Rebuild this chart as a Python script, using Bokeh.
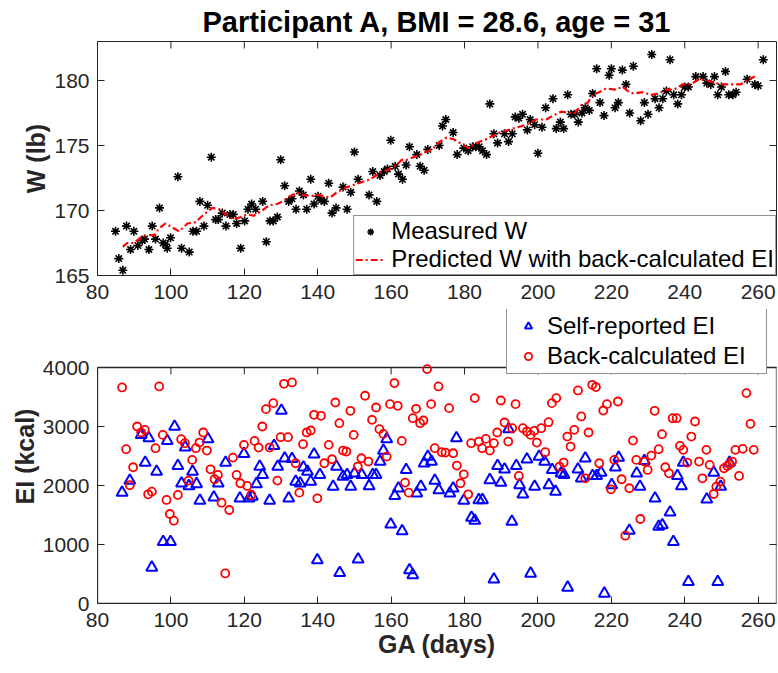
import math
from bokeh.plotting import figure
from bokeh.models import (ColumnDataSource, Range1d, FixedTicker, Legend, LegendItem, Title)
from bokeh.layouts import column
from bokeh.embed import file_html
from bokeh.resources import INLINE

# ---------------- data ----------------
title_text = "Participant A, BMI = 28.6, age = 31"
x_lim = [80, 265]
w_lim = [165, 183]
ei_lim = [0, 4000]
x_ticks = [80, 100, 120, 140, 160, 180, 200, 220, 240, 260]
w_ticks = [165, 170, 175, 180]
ei_ticks = [0, 1000, 2000, 3000, 4000]

meas_day = [84.9, 85.8, 86.9, 87.9, 89.0, 89.9, 91.0, 92.2, 92.8, 94.0, 94.9, 95.8, 96.9, 97.9, 98.5,
            99.0, 99.9, 101.9, 102.9, 105.0, 106.0, 107.0, 107.9, 109.0, 110.0, 111.0, 112.2, 112.9,
            114.0, 115.0, 116.1, 117.0, 117.9, 119.0, 120.1, 121.0, 122.0, 123.1, 125.0, 126.0, 127.0,
            127.9, 129.0, 129.9, 131.0, 132.1, 133.0, 134.1, 135.0, 136.1, 137.0, 138.1, 139.0, 140.1,
            140.9, 141.8, 143.0, 143.9, 145.0, 146.9, 148.0, 149.0, 150.0, 151.0, 154.0, 155.0, 156.1,
            157.0, 158.1, 159.0, 159.9, 161.1, 162.0, 163.1, 164.1, 165.0, 167.0, 167.9, 169.0, 170.0,
            173.1, 174.0, 174.9, 176.9, 178.0, 179.8, 181.0, 182.2, 183.1, 184.0, 184.9, 186.0, 186.9,
            188.0, 189.0, 190.9, 192.0, 193.0, 193.8, 194.8, 195.8, 197.1, 197.9, 199.1, 200.0, 201.1,
            202.1, 204.1, 205.0, 206.1, 207.0, 208.1, 209.0, 210.0, 211.0, 212.0, 212.9, 214.0, 214.9,
            216.0, 216.9, 218.0, 219.4, 220.0, 221.0, 221.9, 223.0, 224.0, 225.0, 226.0, 228.0, 229.0,
            230.0, 231.0, 231.9, 233.0, 234.0, 235.0, 236.0, 237.0, 238.1, 239.1, 240.0, 241.0, 243.0,
            245.0, 246.0, 247.1, 248.1, 249.0, 250.0, 251.1, 252.0, 253.1, 254.0, 257.0, 259.1, 260.0,
            261.4]
meas_w = [168.4, 166.3, 165.4, 168.8, 167.0, 168.4, 167.3, 167.7, 167.8, 167.0, 168.8, 167.8, 170.2,
          167.5, 167.4, 167.1, 167.9, 172.6, 167.1, 166.8, 168.4, 168.4, 170.7, 168.8, 170.4, 174.1,
          169.3, 169.3, 169.8, 168.8, 169.7, 169.7, 169.0, 167.1, 169.2, 170.1, 170.5, 170.1, 170.7,
          167.6, 169.2, 169.2, 169.5, 173.9, 171.9, 170.7, 170.9, 170.1, 171.5, 171.2, 170.1, 172.4,
          170.5, 171.1, 170.8, 170.7, 172.1, 169.8, 170.2, 171.8, 170.1, 171.4, 174.5, 172.4, 171.2,
          173.0, 170.7, 172.7, 173.0, 173.2, 175.4, 173.4, 172.8, 172.4, 173.5, 174.9, 174.3, 173.4,
          173.1, 174.7, 175.0, 176.5, 177.0, 176.0, 174.3, 174.8, 174.6, 174.9, 174.9, 174.9, 174.6,
          174.3, 178.2, 175.9, 175.2, 175.9, 175.3, 175.9, 177.2, 177.1, 177.4, 176.2, 177.0, 176.6,
          174.4, 176.4, 177.9, 178.6, 176.3, 176.8, 176.3, 178.9, 177.4, 177.4, 176.8, 177.5, 177.9,
          177.7, 179.0, 180.9, 178.3, 177.3, 180.4, 180.9, 177.9, 178.3, 180.8, 179.7, 177.5, 181.1,
          176.9, 178.3, 177.4, 182.0, 178.6, 177.9, 178.6, 179.2, 181.6, 178.9, 178.2, 178.9, 179.5,
          179.5, 180.3, 180.3, 179.8, 179.7, 180.3, 178.9, 179.5, 180.7, 178.9, 178.9, 179.1, 180.1,
          179.7, 179.6, 181.6]

pred_day = [86.9, 88.1, 89.9, 91.7, 93.5, 95.4, 96.7, 98.5, 100.4, 102.2, 104.5, 106.7, 109.0, 111.3,
            113.1, 115.4, 117.2, 119.0, 120.8, 122.6, 124.9, 126.7, 129.0, 130.4, 132.6, 134.3, 135.8,
            138.1, 139.9, 143.4, 145.2, 148.0, 151.1, 154.3, 157.0, 159.7, 161.5, 162.9, 164.3, 166.1,
            168.8, 171.5, 173.3, 175.1, 176.9, 178.7, 181.0, 183.3, 186.0, 189.6, 193.2, 196.8, 199.5,
            202.3, 204.1, 206.3, 208.6, 210.0, 211.8, 213.6, 214.9, 216.7, 218.6, 220.8, 223.1, 224.9,
            226.2, 228.5, 230.8, 233.0, 234.8, 237.1, 239.4, 241.6, 243.9, 246.2, 248.4, 250.2, 252.9,
            255.2, 257.5, 259.1]
pred_w = [167.2, 167.5, 167.5, 167.9, 168.1, 168.1, 168.6, 169.0, 168.7, 168.4, 169.0, 169.1, 169.7,
          170.2, 170.1, 169.6, 169.3, 169.5, 169.7, 169.6, 170.0, 170.4, 170.5, 170.7, 171.1, 171.4,
          171.2, 171.1, 171.2, 171.0, 171.4, 171.8, 172.1, 172.4, 172.9, 173.2, 173.5, 173.9, 173.9,
          174.1, 174.4, 174.8, 175.3, 175.6, 175.5, 175.2, 174.8, 175.2, 175.5, 176.0, 176.3, 176.6,
          177.0, 177.0, 177.3, 177.6, 177.5, 177.5, 178.1, 178.3, 178.9, 179.1, 179.4, 179.3, 179.5,
          179.1, 179.0, 179.1, 178.9, 179.0, 179.3, 179.3, 179.7, 179.7, 180.1, 180.0, 179.8, 179.7,
          179.7, 179.7, 180.1, 180.3]

self_day = [86.7, 88.8, 91.9, 93.0, 94.0, 94.8, 96.1, 97.9, 99.0, 99.9, 101.0, 101.9, 102.9, 103.9,
            104.9, 105.9, 107.0, 107.9, 110.1, 111.7, 112.9, 114.9, 118.8, 119.9, 121.3, 122.2, 123.3,
            124.2, 125.0, 126.9, 128.1, 129.1, 130.1, 131.0, 132.1, 133.0, 134.0, 135.2, 136.1, 137.2,
            138.1, 139.0, 139.9, 140.6, 144.2, 145.1, 146.0, 146.9, 148.0, 149.0, 150.0, 151.0, 152.0,
            154.0, 155.0, 155.9, 157.0, 157.9, 158.8, 159.9, 161.0, 162.0, 163.0, 164.1, 165.0, 165.9,
            167.0, 168.1, 169.0, 170.0, 171.0, 171.9, 173.0, 176.0, 176.9, 177.8, 179.8, 181.9, 182.8,
            183.9, 184.9, 186.9, 188.0, 189.0, 189.9, 190.9, 192.0, 192.9, 194.1, 195.0, 195.9, 197.0,
            198.0, 199.1, 200.3, 201.8, 203.0, 203.9, 204.8, 206.3, 207.1, 208.1, 210.9, 211.8, 212.9,
            214.9, 216.0, 217.2, 218.1, 220.1, 221.1, 222.0, 224.9, 226.9, 227.8, 229.0, 231.9, 232.9,
            233.9, 236.0, 236.9, 238.0, 239.1, 239.6, 241.0, 246.0, 247.9, 249.0, 249.8, 252.2]
self_ei = [1879, 2083, 2858, 2389, 2802, 611, 2236, 1047, 2756, 1047, 3000, 2332, 2038, 2649, 1992,
           2236, 2026, 1743, 2785, 1800, 2038, 2389, 1783, 2536, 1783, 1811, 2026, 2321, 2179, 1743,
           2672, 2321, 3271, 2462, 1783, 2451, 2066, 2038, 2309, 2236, 2066, 2530, 736, 2179, 1981,
           2321, 521, 2151, 2179, 1981, 2207, 747, 2179, 1992, 2179, 2179, 2406, 2592, 2785, 1341,
           1823, 1953, 1228, 2264, 566, 481, 1868, 1981, 2377, 2490, 2406, 2083, 1924, 1868, 1953,
           2802, 1743, 1455, 1404, 1755, 1755, 2094, 408, 2332, 2049, 2275, 2955, 1387, 2332, 2009,
           1851, 2445, 509, 1981, 2490, 2406, 2009, 2264, 1896, 2207, 2179, 272, 2275, 2122, 2462,
           2162, 2162, 2219, 170, 2009, 2309, 2473, 1234, 2207, 1981, 2417, 1783, 1302, 1330, 1545,
           1047, 2162, 1992, 2389, 368, 1766, 2219, 368, 1981, 2389]

back_day = [86.7, 87.8, 88.8, 89.7, 90.8, 91.9, 92.9, 93.8, 94.8, 95.8, 96.8, 97.8, 98.8, 99.7, 100.8,
            101.9, 102.8, 103.8, 104.8, 105.8, 106.8, 107.8, 108.8, 109.8, 110.8, 111.9, 112.8, 113.8,
            114.8, 115.9, 116.9, 117.9, 118.9, 119.9, 120.8, 121.9, 122.8, 123.9, 124.9, 125.9, 126.9,
            127.9, 129.0, 129.9, 130.8, 131.9, 133.0, 134.0, 135.0, 136.0, 137.0, 138.1, 139.0, 139.9,
            140.9, 141.8, 143.0, 143.9, 144.8, 145.9, 146.9, 147.8, 148.9, 149.8, 150.9, 151.9, 152.9,
            153.8, 154.8, 155.9, 156.8, 157.9, 158.8, 159.7, 160.9, 161.8, 162.9, 163.8, 164.8, 165.9,
            166.8, 167.9, 168.8, 169.8, 170.9, 171.9, 172.9, 173.8, 174.8, 175.8, 176.9, 177.9, 178.9,
            179.8, 181.0, 181.8, 182.8, 183.9, 184.8, 185.8, 186.9, 188.0, 188.9, 189.9, 190.9, 191.9,
            193.0, 193.9, 194.8, 195.9, 197.0, 198.0, 199.0, 199.7, 200.9, 202.0, 202.9, 203.8, 205.0,
            205.9, 207.0, 208.0, 208.9, 209.9, 210.9, 211.8, 212.9, 213.8, 214.8, 215.8, 216.7, 217.8,
            218.8, 219.9, 220.8, 221.8, 222.8, 223.8, 224.9, 225.9, 226.8, 227.9, 229.0, 229.9, 230.9,
            231.8, 232.9, 233.8, 234.7, 235.7, 236.7, 237.8, 238.7, 239.6, 240.7, 241.8, 242.8, 243.9,
            244.8, 245.9, 246.8, 247.9, 248.6, 249.7, 250.7, 251.6, 252.2, 252.9, 253.8, 254.8, 255.8,
            256.8, 257.9, 258.8]
back_ei = [3662, 2615, 2004, 2309, 3000, 2898, 2943, 1851, 1896, 2632, 3679, 2858, 1755, 1517, 1404,
           1840, 2785, 2717, 2083, 2434, 2632, 2728, 2898, 2592, 2275, 2106, 2179, 1709, 509, 1585,
           2473, 2179, 2038, 2689, 1992, 1840, 2756, 2643, 3000, 3294, 2643, 3396, 2083, 2819, 3724,
           2819, 3747, 2377, 1879, 2700, 2898, 2932, 3198, 1783, 3181, 2377, 2689, 2445, 3407, 3056,
           2592, 2575, 3266, 2858, 2321, 2462, 3521, 2406, 3113, 3322, 2955, 2875, 2490, 3379, 3736,
           3351, 2756, 2049, 1879, 3141, 3300, 3056, 3102, 3973, 3379, 2632, 3679, 2564, 2558, 3311,
           2547, 2338, 2038, 2190, 1851, 2717, 3481, 2745, 2632, 2790, 2592, 2717, 2898, 3441, 3068,
           2745, 2971, 3379, 2162, 2971, 2915, 2858, 2926, 2728, 2971, 2564, 3073, 3396, 3481, 2321,
           2389, 2830, 2660, 2943, 3611, 3170, 2122, 2898, 3707, 3668, 2377, 3271, 3379, 1936, 2434,
           3424, 2106, 1149, 1953, 2762, 2434, 1432, 2406, 2264, 2507, 3266, 2615, 2870, 2309, 2207,
           3141, 3141, 2672, 2604, 2389, 2830, 3085, 2406, 2122, 2604, 2349, 1856, 1981, 2066, 2292,
           2332, 2360, 2406, 2604, 2162, 2621, 3566, 3045, 2604]

# ---------------- styling ----------------
FONT = "Liberation Sans"
AXC = "#262626"
TICK_FS = "21px"
LAB_FS = "25px"
LEG_FS = "24px"
TICK_LEN = 7


def style_axes(p, xlabel, ylabel, yticks):
    p.xgrid.visible = False
    p.ygrid.visible = False
    p.background_fill_color = "white"
    p.border_fill_color = "white"
    for ax in (p.xaxis[0], p.yaxis[0]):
        ax.major_tick_in = TICK_LEN
        ax.major_tick_out = 0
        ax.minor_tick_line_color = None
        ax.axis_line_color = AXC
        ax.major_tick_line_color = AXC
        ax.major_label_text_font = FONT
        ax.major_label_text_font_size = TICK_FS
        ax.major_label_text_color = AXC
        ax.axis_label_text_font = FONT
        ax.axis_label_text_font_size = LAB_FS
        ax.axis_label_text_font_style = "bold"
        ax.axis_label_text_color = AXC
    p.xaxis[0].ticker = FixedTicker(ticks=x_ticks)
    p.yaxis[0].ticker = FixedTicker(ticks=yticks)
    p.xaxis[0].major_label_standoff = 9
    p.yaxis[0].major_label_standoff = 8
    p.xaxis[0].axis_label_standoff = 0
    p.yaxis[0].axis_label_standoff = 1
    if xlabel:
        p.xaxis[0].axis_label = xlabel
    p.yaxis[0].axis_label = ylabel


# ---------------- top panel ----------------
p1 = figure(width=778, height=308, output_backend="svg", toolbar_location=None,
            x_range=Range1d(*x_lim), y_range=Range1d(*w_lim),
            min_border_left=97, min_border_right=2, min_border_top=40, min_border_bottom=33)
p1.title = Title(text=title_text, align="center", text_font=FONT, text_font_size="29px",
                 text_font_style="bold", text_color="black", standoff=7)
style_axes(p1, None, "W (lb)", w_ticks)
p1.outline_line_color = AXC
# mirrored inward ticks on top / right edges (half of each dash is clipped by the frame)
p1.scatter(x=x_ticks, y=[w_lim[1]] * len(x_ticks), marker="dash", angle=math.pi / 2,
           size=2 * TICK_LEN, line_color=AXC, line_width=1)
p1.scatter(x=[x_lim[1]] * len(w_ticks), y=w_ticks, marker="dash", angle=0,
           size=2 * TICK_LEN, line_color=AXC, line_width=1)

src_meas = ColumnDataSource(dict(x=meas_day, y=meas_w))
src_pred = ColumnDataSource(dict(x=pred_day, y=pred_w))
r_meas = p1.scatter("x", "y", source=src_meas, marker="asterisk", size=9,
                    line_color="black", line_width=1.6)
r_pred = p1.line("x", "y", source=src_pred, line_color="red", line_width=2.2,
                 line_dash="7 3 2 3")

# legend marker size is 0.4 * min(glyph_width, glyph_height) -> small swatches
leg1 = Legend(items=[LegendItem(label="Measured W", renderers=[r_meas]),
                     LegendItem(label="Predicted W with back-calculated EI", renderers=[r_pred])],
              location="bottom_right", margin=0, padding=1, spacing=0,
              glyph_width=30, glyph_height=17, label_standoff=6,
              label_text_font=FONT, label_text_font_size=LEG_FS, label_text_color="black",
              border_line_color=AXC, border_line_width=1, background_fill_color="white",
              background_fill_alpha=1)
p1.add_layout(leg1)

# ---------------- bottom panel ----------------
# The plotting frame is extended 58 px above the 4000 line so that the legend can
# sit above the axes box (as in the original); the box itself is drawn as a quad.
P2_H = 365
P2_BOTTOM = 70
P2_BOX_H = 236          # pixel height of the 0..4000 box
P2_FRAME_H = P2_H - 1 - P2_BOTTOM
ei_top = ei_lim[1] * P2_FRAME_H / P2_BOX_H
px_ei = ei_top / P2_FRAME_H  # data units per pixel

p2 = figure(width=778, height=P2_H, output_backend="svg", toolbar_location=None,
            x_range=Range1d(*x_lim), y_range=Range1d(0, ei_top),
            min_border_left=97, min_border_right=2, min_border_top=1, min_border_bottom=P2_BOTTOM)
style_axes(p2, "GA (days)", "EI (kcal)", ei_ticks)
p2.outline_line_color = None
p2.yaxis[0].bounds = (ei_lim[0], ei_lim[1])
p2.quad(left=x_lim[0], right=x_lim[1], bottom=ei_lim[0], top=ei_lim[1],
        fill_color=None, line_color=AXC, line_width=1.3)
p2.segment(x0=x_ticks, x1=x_ticks, y0=[ei_lim[1]] * len(x_ticks),
           y1=[ei_lim[1] - TICK_LEN * px_ei] * len(x_ticks), line_color=AXC, line_width=1)
p2.scatter(x=[x_lim[1]] * len(ei_ticks), y=ei_ticks, marker="dash", angle=0,
           size=2 * TICK_LEN, line_color=AXC, line_width=1)

src_self = ColumnDataSource(dict(x=self_day, y=self_ei))
src_back = ColumnDataSource(dict(x=back_day, y=back_ei))
r_self = p2.scatter("x", "y", source=src_self, marker="triangle", size=11,
                    fill_color=None, line_color="blue", line_width=2)
r_back = p2.scatter("x", "y", source=src_back, marker="circle", size=8,
                    fill_color=None, line_color="red", line_width=1.8)

leg2 = Legend(items=[LegendItem(label="Self-reported EI", renderers=[r_self]),
                     LegendItem(label="Back-calculated EI", renderers=[r_back])],
              location=(409, 229), margin=0, padding=3, spacing=2,
              glyph_width=36, glyph_height=18, label_standoff=1, label_width=216,
              label_text_font=FONT, label_text_font_size=LEG_FS, label_text_color="black",
              border_line_color=AXC, border_line_width=1, background_fill_color="white",
              background_fill_alpha=1)
p2.add_layout(leg2)

layout = column(p1, p2, spacing=0)
open("out.html", "w").write(file_html(layout, INLINE))
